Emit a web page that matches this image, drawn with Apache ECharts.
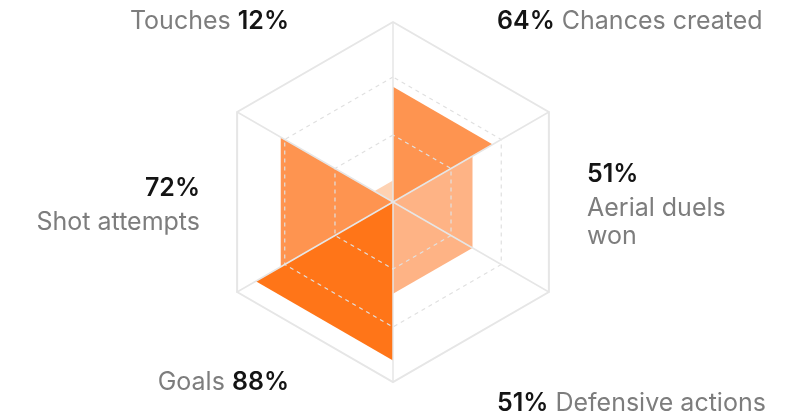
<!DOCTYPE html>
<html>
<head>
<meta charset="utf-8">
<script src="https://cdn.jsdelivr.net/npm/echarts@6/dist/echarts.min.js"></script>
<style>
  html, body { margin: 0; background: #fff; }
  #chart { width: 795px; height: 416px; }
</style>
</head>
<body>
<div id="chart"></div>
<script>
// Wedges listed counter-clockwise, starting with the top-right one
const metrics = ['Chances created', 'Touches', 'Shot attempts', 'Goals', 'Defensive actions', 'Aerial duels won'];
const values = [64, 12, 72, 88, 51, 51];
const labelText = ['Chances created', 'Touches', 'Shot attempts', 'Goals', 'Defensive actions', 'Aerial duels\nwon'];
// how each label is composed: pct first, name first, or stacked on lines
const labelKind = ['pctName', 'namePct', 'stack', 'namePct', 'pctName', 'stack'];
const wedgeColors = ['#fe9450', '#fed2b3', '#fe9450', '#ff7518', '#feb385', '#feb385'];

const CENTER = [393, 202];
const RADIUS = 180;
const N = metrics.length;

// per-label placement tweaks
const nameGaps = [28, 28, 13, 28, 28, 14];
const namePads = [0, 0, 0, 0, [42, 0, 0, 0], 0];

const chart = echarts.init(document.getElementById('chart'));

const vertexIndicators = metrics.map(() => ({ min: 0, max: 100 }));

function formatLabel(i) {
  const pct = '{p|' + values[i] + '%}';
  const lines = labelText[i].split('\n');
  if (labelKind[i] === 'stack') {
    return '{ps|' + values[i] + '%}\n' + lines.map((l) => '{n|' + l + '}').join('\n');
  }
  const name = '{n|' + labelText[i] + '}';
  return labelKind[i] === 'pctName' ? pct + '{n| }' + name : name + '{n| }' + pct;
}

const rich = {
  p: { fontFamily: 'Inter', fontSize: 25, fontWeight: 600, color: '#141414', lineHeight: 30 },
  ps: { fontFamily: 'Inter', fontSize: 25, fontWeight: 600, color: '#141414', lineHeight: 40 },
  n: { fontFamily: 'Inter', fontSize: 25, color: '#7d7d7d', lineHeight: 28 }
};

chart.setOption({
  animation: false,
  radar: [
    {
      // main hexagon: spokes + outer ring, drawn above the wedges
      center: CENTER,
      radius: RADIUS,
      startAngle: 90,
      shape: 'polygon',
      splitNumber: 1,
      indicator: vertexIndicators,
      axisName: { show: false },
      axisLine: { lineStyle: { color: '#e6e6e6', width: 1.5 } },
      splitLine: { lineStyle: { color: '#e6e6e6', width: 2 } },
      splitArea: { show: false },
      z: 10
    },
    {
      center: CENTER,
      radius: 125,
      startAngle: 90,
      shape: 'polygon',
      splitNumber: 1,
      indicator: vertexIndicators,
      axisName: { show: false },
      axisLine: { show: false },
      splitLine: { lineStyle: { color: '#e0e0e0', width: 1.2, type: [4, 4] } },
      splitArea: { show: false },
      z: 10
    },
    {
      center: CENTER,
      radius: 67,
      startAngle: 90,
      shape: 'polygon',
      splitNumber: 1,
      indicator: vertexIndicators,
      axisName: { show: false },
      axisLine: { show: false },
      splitLine: { lineStyle: { color: '#e0e0e0', width: 1.2, type: [4, 4] } },
      splitArea: { show: false },
      z: 10
    },
    {
      // invisible radar rotated half a sector: carries the wedge labels
      center: CENTER,
      radius: RADIUS,
      startAngle: 60,
      shape: 'polygon',
      splitNumber: 1,
      indicator: metrics.map((m, i) => ({
        name: m,
        min: 0,
        max: 100,
        nameGap: nameGaps[i],
        nameTextStyle: { padding: namePads[i] }
      })),
      axisName: {
        show: true,
        formatter: (name) => formatLabel(metrics.indexOf(name)),
        rich: rich
      },
      axisLine: { show: false },
      splitLine: { show: false },
      splitArea: { show: false }
    }
  ],
  series: [
    {
      type: 'radar',
      radarIndex: 0,
      z: 2,
      symbol: 'none',
      lineStyle: { width: 0, opacity: 0 },
      data: values.map((v, k) => {
        const arr = new Array(N).fill(0);
        arr[k] = v;
        arr[(k + N - 1) % N] = v;
        return {
          name: metrics[k],
          value: arr,
          areaStyle: { color: wedgeColors[k], opacity: 1 }
        };
      })
    }
  ]
});
</script>
</body>
</html>
